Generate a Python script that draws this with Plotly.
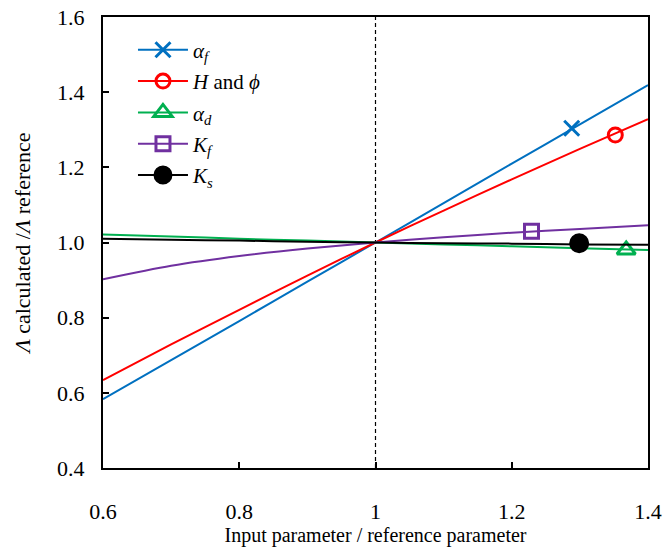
import plotly.graph_objects as go

# x values (input parameter / reference parameter)
x_vals = [0.6, 0.7, 0.8, 0.9, 1.0, 1.1, 1.2, 1.3, 1.4]

# series values (Lambda calculated / Lambda reference)
alpha_f = [0.583, 0.687, 0.791, 0.896, 1.0, 1.105, 1.210, 1.314, 1.419]
h_phi = [0.634, 0.729, 0.821, 0.912, 1.0, 1.085, 1.168, 1.249, 1.328]
alpha_d = [1.021, 1.016, 1.010, 1.005, 1.0, 0.995, 0.990, 0.985, 0.980]
k_f = [0.902, 0.938, 0.964, 0.984, 1.0, 1.014, 1.026, 1.036, 1.046]
k_s = [1.010, 1.007, 1.005, 1.002, 1.0, 0.998, 0.997, 0.995, 0.994]

# single marker position per series
marker_x = [1.288, 1.352, 1.368, 1.229, 1.299]
marker_y = [1.304, 1.286, 0.980, 1.030, 0.998]

names = ["<i>α<sub>f</sub></i>", "<i>H</i> and <i>ϕ</i>", "<i>α<sub>d</sub></i>",
         "<i>K<sub>f</sub></i>", "<i>K<sub>s</sub></i>"]
series = [alpha_f, h_phi, alpha_d, k_f, k_s]
colors = ["#0070C0", "#FF0000", "#00B050", "#7030A0", "#000000"]
symbols = ["x-thin-open", "circle-open", "triangle-up-open", "square-open", "circle"]
msizes = [15, 14, 16, 14, 17]

x_ticks = [0.6, 0.8, 1.0, 1.2, 1.4]
x_ticktext = ["0.6", "0.8", "1", "1.2", "1.4"]
y_ticks = [0.4, 0.6, 0.8, 1.0, 1.2, 1.4, 1.6]

fig = go.Figure()

# dashed reference line at x = 1
fig.add_trace(go.Scatter(x=[1.0, 1.0], y=[0.4, 1.6], mode="lines",
                         line=dict(color="black", width=1.2, dash="4px,3px"),
                         showlegend=False, hoverinfo="skip"))

for i, (name, ys) in enumerate(zip(names, series)):
    c = colors[i]
    fig.add_trace(go.Scatter(x=x_vals, y=ys, mode="lines",
                             line=dict(color=c, width=2, shape="spline", smoothing=0.8),
                             showlegend=False))
    fig.add_trace(go.Scatter(x=[marker_x[i]], y=[marker_y[i]], mode="markers",
                             marker=dict(symbol=symbols[i], size=msizes[i], color=c,
                                         line=dict(color=c, width=3)),
                             showlegend=False))
    fig.add_trace(go.Scatter(x=[None], y=[None], mode="lines+markers", name=name,
                             legendgroup=f"g{i}",
                             line=dict(color=c, width=2),
                             marker=dict(symbol=symbols[i], size=msizes[i], color=c,
                                         line=dict(color=c, width=3))))

font_family = "Liberation Serif"
fig.update_layout(
    width=664, height=548,
    margin=dict(l=103, r=16, t=17, b=80),
    paper_bgcolor="white", plot_bgcolor="white",
    font=dict(family=font_family, size=22, color="black"),
    legend=dict(x=0.055, y=0.972, xanchor="left", yanchor="top",
                bgcolor="rgba(0,0,0,0)", font=dict(size=21, family=font_family),
                tracegroupgap=1, itemwidth=50),
    xaxis=dict(range=[0.6, 1.4], tickvals=x_ticks, ticktext=x_ticktext,
               ticks="inside", ticklen=6, tickwidth=1.5, tickcolor="black",
               ticklabelstandoff=23,
               showline=True, linecolor="black", linewidth=2, mirror=True,
               showgrid=False, zeroline=False, automargin=False,
               title=dict(text="Input parameter / reference parameter",
                          font=dict(size=20), standoff=4)),
    yaxis=dict(range=[0.4, 1.6], tickvals=y_ticks, tickformat=".1f",
               ticks="inside", ticklen=6, tickwidth=1.5, tickcolor="black",
               ticklabelstandoff=12,
               showline=True, linecolor="black", linewidth=2, mirror=True,
               showgrid=False, zeroline=False, automargin=False,
               title=dict(text="<i>Λ</i> calculated /<i>Λ</i> reference",
                          font=dict(size=22), standoff=20)),
)

fig.write_html("out.html", config={"displayModeBar": False},
               post_script="document.body.style.margin='0';")
